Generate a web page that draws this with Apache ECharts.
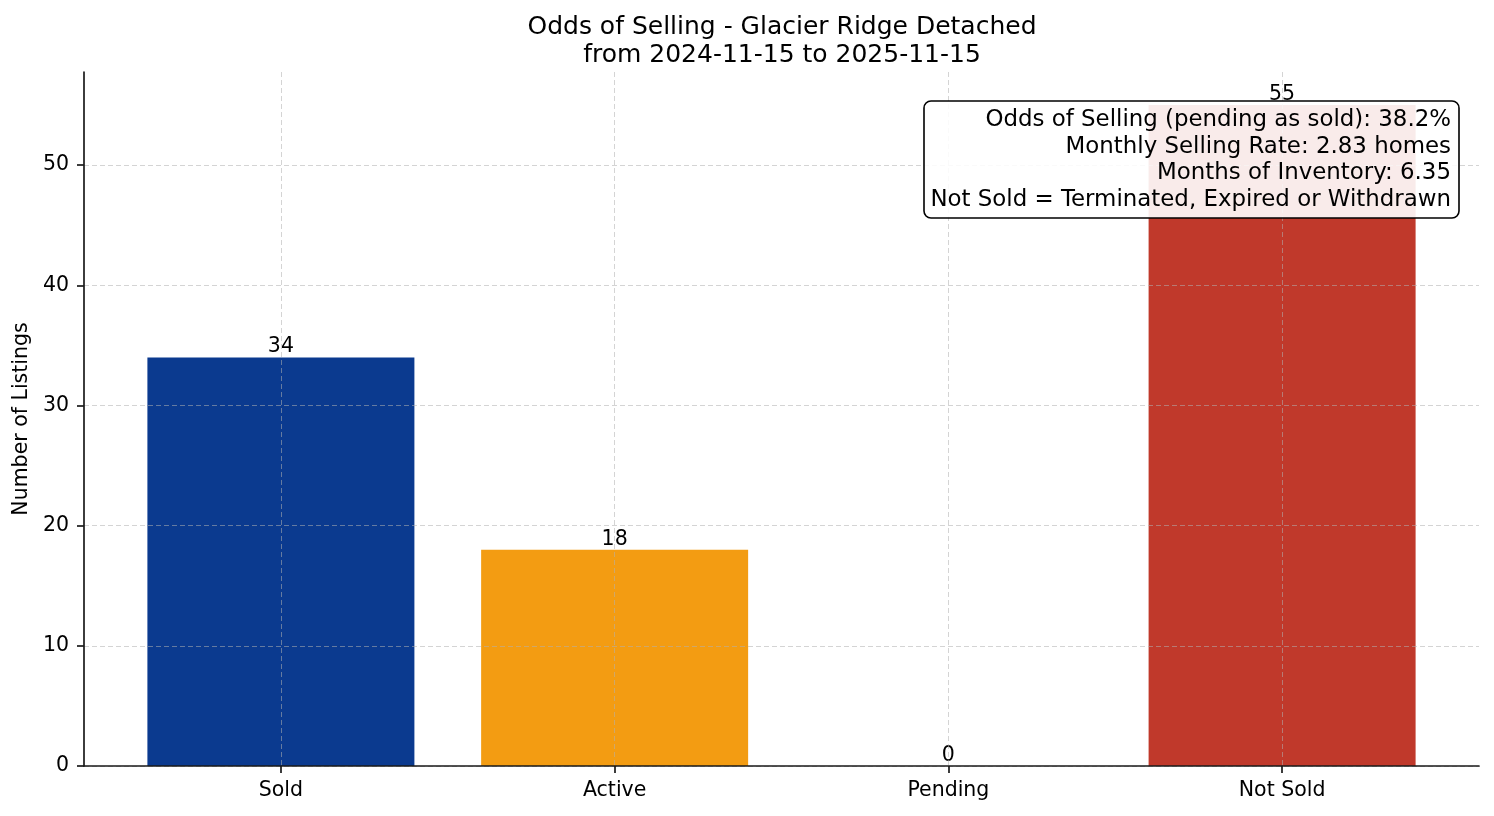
<!DOCTYPE html>
<html>
<head>
<meta charset="utf-8">
<script src="https://cdn.jsdelivr.net/npm/echarts@6.0.0/dist/echarts.min.js"></script>
<style>
  body { margin: 0; background: #fff; }
  #chart { width: 1494px; height: 816px; }
</style>
</head>
<body>
<div id="chart"></div>
<script>
const categories = ['Sold', 'Active', 'Pending', 'Not Sold']
const counts = [34, 18, 0, 55]
const barColors = ['#0b3a8f', '#f39c12', '#8e44ad', '#c0392b']
const yTicks = [0, 10, 20, 30, 40, 50]
const xTicks = [0, 1, 2, 3]
const titleLines = ['Odds of Selling - Glacier Ridge Detached', 'from 2024-11-15 to 2025-11-15']
const statLines = [
    'Odds of Selling (pending as sold): 38.2%',
    'Monthly Selling Rate: 2.83 homes',
    'Months of Inventory: 6.35',
    'Not Sold = Terminated, Expired or Withdrawn'
]

const font = 'DejaVu Sans'
const gridLine = { show: true, lineStyle: { color: 'rgba(176,176,176,0.55)', width: 1, type: [5, 3] } }

let dom = document.getElementById('chart')
let myChart = echarts.init(dom)
var option = {
    animation: false,
    textStyle: { fontFamily: font },
    title: {
        text: titleLines.join('\n'),
        left: 777,
        top: 8,
        textAlign: 'center',
        textStyle: { fontFamily: font, fontSize: 25, fontWeight: 'normal', color: '#000', lineHeight: 28 }
    },
    grid: { left: 84, right: 15, top: 72, bottom: 50, outerBoundsMode: 'none' },
    xAxis: {
        type: 'value',
        min: -0.59,
        max: 3.59,
        z: 3,
        axisLine: { show: true, onZero: false, lineStyle: { color: '#1a1a1a', width: 1.7 } },
        axisTick: { show: true, customValues: xTicks, length: 7, lineStyle: { color: '#1a1a1a', width: 1.7 } },
        axisLabel: {
            customValues: xTicks,
            margin: 14,
            fontSize: 20.5,
            color: '#000',
            fontFamily: font,
            formatter: function (v) { return categories[Math.round(v)] }
        },
        splitLine: gridLine
    },
    yAxis: {
        type: 'value',
        min: 0,
        max: 57.75,
        z: 3,
        name: 'Number of Listings',
        nameLocation: 'middle',
        nameGap: 45,
        nameTextStyle: { fontSize: 20.5, color: '#000', fontFamily: font },
        axisLine: { show: true, onZero: false, lineStyle: { color: '#1a1a1a', width: 1.7 } },
        axisTick: { show: true, customValues: yTicks, length: 7, lineStyle: { color: '#1a1a1a', width: 1.7 } },
        axisLabel: { customValues: yTicks, margin: 15, fontSize: 20.5, color: '#000', fontFamily: font },
        splitLine: gridLine
    },
    series: [{
        type: 'bar',
        barWidth: 267,
        data: categories.map(function (c, i) {
            return { value: [i, counts[i]], itemStyle: { color: barColors[i] } }
        }),
        label: {
            show: true,
            position: 'top',
            distance: 0,
            fontSize: 20.5,
            color: '#000',
            fontFamily: font,
            formatter: function (p) { return p.value[1] }
        }
    }],
    graphic: [{
        type: 'rect',
        z: 100,
        shape: { x: 924, y: 101, width: 535, height: 117, r: 7 },
        style: { fill: 'rgba(255,255,255,0.9)', stroke: '#000', lineWidth: 1.6 }
    }, {
        type: 'text',
        z: 101,
        x: 1451,
        y: 107,
        style: {
            text: statLines.join('\n'),
            align: 'right',
            verticalAlign: 'top',
            fontSize: 22.9,
            lineHeight: 26.6,
            fontFamily: font,
            fill: '#000'
        }
    }]
}
if (option && typeof option === 'object') {
    myChart.setOption(option)
}
</script>
</body>
</html>
